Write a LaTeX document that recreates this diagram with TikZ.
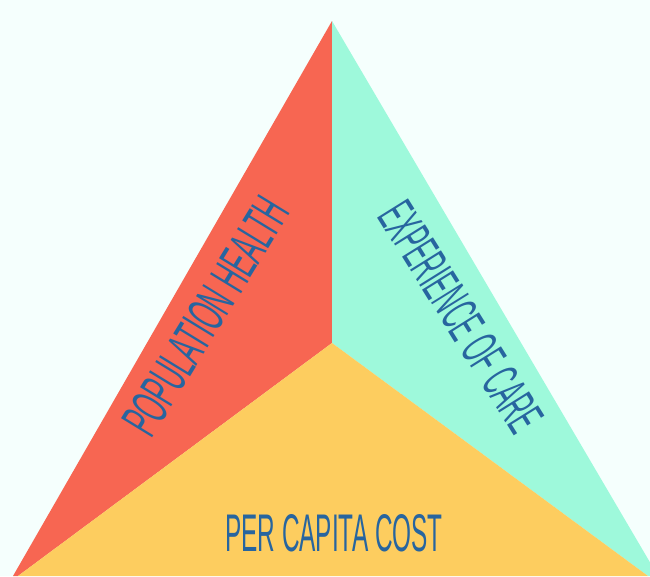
\documentclass[tikz,border=0pt]{standalone}
\usepackage{fontspec}
\setmainfont{Liberation Sans}
\definecolor{bgc}{HTML}{F5FFFD}
\definecolor{redc}{HTML}{F76652}
\definecolor{mintc}{HTML}{9EF9DB}
\definecolor{yelc}{HTML}{FDCD5F}
\definecolor{txtc}{HTML}{27659F}
\tikzset{lbl/.style={inner sep=0pt, text=txtc, font=\fontsize{53}{53}\selectfont}}
\begin{document}
\begin{tikzpicture}[x=1pt,y=-1pt]
\fill[bgc] (0,0) rectangle (650,576);
\useasboundingbox (0,0) rectangle (650,576);
\begin{scope}
\clip (0,0) rectangle (650,576);
\coordinate (apex) at (332,21);
\coordinate (mid) at (332,343);
\coordinate (bl) at (13,576);
\coordinate (br) at (658,576);
\coordinate (blin) at (18,576);
\coordinate (brin) at (648,576);
\fill[redc] (apex) -- (mid) -- (blin) -- (bl) -- cycle;
\fill[mintc] (apex) -- (br) -- (brin) -- (mid) -- cycle;
\fill[yelc] (mid) -- (blin) -- (brin) -- cycle;
\end{scope}
\node[lbl, rotate=58.5] (ph) at (206,316) {\scalebox{0.48}[1]{POPULATION HEALTH}};
\node[lbl, rotate=-58] (ec) at (461,317) {\scalebox{0.44}[1]{EXPERIENCE OF CARE}};
\node[lbl] (pc) at (334,533) {\scalebox{0.46}[1]{PER CAPITA COST}};
\end{tikzpicture}
\end{document}
